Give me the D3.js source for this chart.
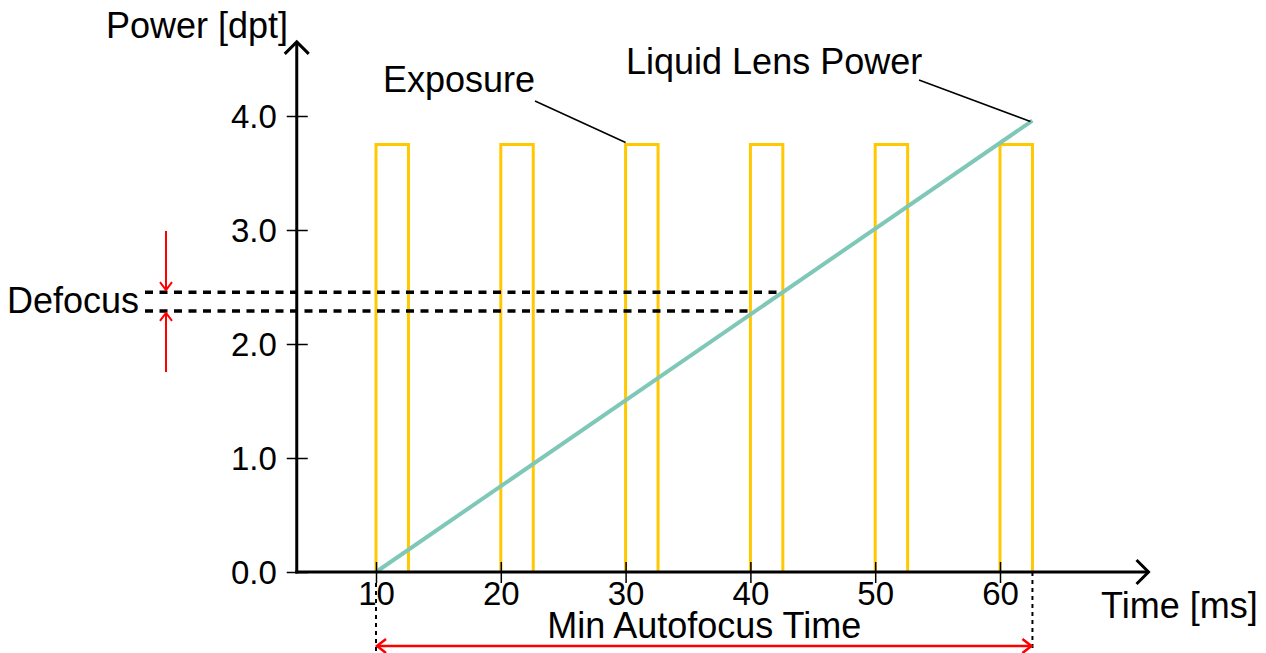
<!DOCTYPE html>
<html>
<head>
<meta charset="utf-8">
<script src="https://cdn.jsdelivr.net/npm/d3@7"></script>
<style>
  html, body { margin: 0; padding: 0; background: #fff; }
  svg { display: block; }
  text { font-family: "Liberation Sans", Arial, sans-serif; fill: #000; }
</style>
</head>
<body>
<svg id="chart" width="1266" height="653"></svg>
<script>
// ---- data ----
const xTicks = [10, 20, 30, 40, 50, 60];
const yTicks = [0, 1, 2, 3, 4];
const yTickLabels = ["0.0", "1.0", "2.0", "3.0", "4.0"];
const exposureStarts = [10, 20, 30, 40, 50, 60];   // ms
const exposureWidth = 2.6;                          // ms
const exposureLevel = 3.75;                         // dpt
const lensTime = [10, 62.6];                        // ms
const lensPower = [0, 3.96];                        // dpt
const defocusTimes = [42.6, 40];                    // ms, where each defocus level is read
const defocusLevels = [2.455, 2.29];                // dpt
const autofocusSpan = [10, 62.6];                   // ms

// ---- layout ----
const svg = d3.select("#chart");
const x = d3.scaleLinear().domain([10, 60]).range([376, 1000]);
const y = d3.scaleLinear().domain([0, 4]).range([572, 116]);
const xAxisStart = 3.65, xAxisEnd = 71.9;
const yAxisEnd = 4.65;
const FS = 36;      // titles and annotations
const TFS = 33;     // tick labels
const FONT = "Liberation Sans, Arial, sans-serif";

// exposure pulses
const pulse = d3.line().x(d => x(d[0])).y(d => y(d[1]));
svg.append("g").selectAll("path").data(exposureStarts).join("path")
  .attr("d", s => pulse([[s, 0], [s, exposureLevel], [s + exposureWidth, exposureLevel], [s + exposureWidth, 0]]))
  .attr("fill", "none").attr("stroke", "#FFC800").attr("stroke-width", 3);

// defocus band (dotted)
const defocusLeft = 145;
svg.append("g").selectAll("line").data(defocusLevels).join("line")
  .attr("x1", defocusLeft).attr("x2", (d, i) => x(defocusTimes[i]))
  .attr("y1", d => y(d)).attr("y2", d => y(d))
  .attr("stroke", "#000").attr("stroke-width", 3.5).attr("stroke-dasharray", "8,6.5");

// liquid lens power ramp
svg.append("path")
  .attr("d", d3.line().x(d => x(d[0])).y(d => y(d[1]))(lensTime.map((t, i) => [t, lensPower[i]])))
  .attr("stroke", "#7FC8B8").attr("stroke-width", 4).attr("fill", "none");

// axes
const axisG = svg.append("g").attr("stroke", "#000");
axisG.append("line").attr("x1", x(xAxisStart) - 1.5).attr("x2", x(xAxisEnd)).attr("y1", y(0)).attr("y2", y(0)).attr("stroke-width", 3);
axisG.append("line").attr("x1", x(xAxisStart)).attr("x2", x(xAxisStart)).attr("y1", y(0) + 1.5).attr("y2", y(yAxisEnd)).attr("stroke-width", 3);
axisG.append("path").attr("d", `M${x(xAxisEnd) - 12},${y(0) - 12} L${x(xAxisEnd)},${y(0)} L${x(xAxisEnd) - 12},${y(0) + 12}`)
  .attr("fill", "none").attr("stroke-width", 3);
axisG.append("path").attr("d", `M${x(xAxisStart) - 12},${y(yAxisEnd) + 12} L${x(xAxisStart)},${y(yAxisEnd)} L${x(xAxisStart) + 12},${y(yAxisEnd) + 12}`)
  .attr("fill", "none").attr("stroke-width", 3);

// x ticks
const xAxis = d3.axisBottom(x).tickValues(xTicks).tickSize(11).tickPadding(0).tickFormat(d3.format("d"));
const gx = svg.append("g").attr("transform", `translate(0,${y(0)})`).call(xAxis);
gx.select(".domain").remove();
gx.selectAll(".tick line").attr("y1", -10).attr("stroke", "#000").attr("stroke-width", 1.5);
gx.selectAll(".tick text").attr("font-size", TFS).attr("dy", 0).attr("y", 33)
  .attr("font-family", FONT).attr("fill", "#000");

// y ticks
const yAxis = d3.axisLeft(y).tickValues(yTicks).tickSize(10).tickPadding(6).tickFormat((d, i) => yTickLabels[i]);
const gy = svg.append("g").attr("transform", `translate(${x(xAxisStart)},0)`).call(yAxis);
gy.select(".domain").remove();
gy.selectAll(".tick line").attr("x2", 11).attr("x1", -10).attr("stroke", "#000").attr("stroke-width", 1.5);
gy.selectAll(".tick text").attr("font-size", TFS).attr("x", -20).attr("dy", "0.34em")
  .attr("font-family", FONT).attr("fill", "#000");

// axis titles
svg.append("text").attr("x", 106).attr("y", 38).attr("font-size", FS).text("Power [dpt]");
svg.append("text").attr("x", 1101).attr("y", 618).attr("font-size", FS).text("Time [ms]");

// series labels with leaders
svg.append("text").attr("x", 383).attr("y", 92).attr("font-size", FS).text("Exposure");
svg.append("line").attr("x1", 535).attr("y1", 101).attr("x2", x(exposureStarts[2])).attr("y2", y(exposureLevel) - 2)
  .attr("stroke", "#000").attr("stroke-width", 1.5);
svg.append("text").attr("x", 626).attr("y", 74).attr("font-size", FS).text("Liquid Lens Power");
svg.append("line").attr("x1", 919).attr("y1", 80).attr("x2", x(lensTime[1]) - 2).attr("y2", y(lensPower[1]) + 1)
  .attr("stroke", "#000").attr("stroke-width", 1.5);

// defocus annotation
svg.append("text").attr("x", 7).attr("y", 313).attr("font-size", FS).text("Defocus");
const red = "#FF0000";
const ax = 166;
const yTop = y(defocusLevels[0]), yBot = y(defocusLevels[1]);
const rg = svg.append("g").attr("stroke", red).attr("stroke-width", 2).attr("fill", "none");
rg.append("line").attr("x1", ax).attr("x2", ax).attr("y1", 231).attr("y2", yTop - 2);
rg.append("path").attr("d", `M${ax - 6},${yTop - 10} L${ax},${yTop - 2} L${ax + 6},${yTop - 10}`);
rg.append("line").attr("x1", ax).attr("x2", ax).attr("y1", 372).attr("y2", yBot + 2);
rg.append("path").attr("d", `M${ax - 6},${yBot + 10} L${ax},${yBot + 2} L${ax + 6},${yBot + 10}`);

// min autofocus time span
const ga = svg.append("g");
ga.selectAll("line.v").data(autofocusSpan).join("line").attr("class", "v")
  .attr("x1", d => x(d)).attr("x2", d => x(d))
  .attr("y1", (d, i) => i === 0 ? 583 : y(0)).attr("y2", 651)
  .attr("stroke", "#000").attr("stroke-width", 2).attr("stroke-dasharray", "4,4");
const ay = 646;
const xa = x(autofocusSpan[0]) + 1, xb = x(autofocusSpan[1]) - 1;
const ag = ga.append("g").attr("stroke", red).attr("stroke-width", 2.5).attr("fill", "none");
ag.append("line").attr("x1", xa).attr("x2", xb).attr("y1", ay).attr("y2", ay);
ag.append("path").attr("d", `M${xa + 9},${ay - 7} L${xa},${ay} L${xa + 9},${ay + 7}`);
ag.append("path").attr("d", `M${xb - 9},${ay - 7} L${xb},${ay} L${xb - 9},${ay + 7}`);
svg.append("text").attr("x", (x(autofocusSpan[0]) + x(autofocusSpan[1])) / 2).attr("y", 638)
  .attr("text-anchor", "middle").attr("font-size", FS).text("Min Autofocus Time");
</script>
</body>
</html>
